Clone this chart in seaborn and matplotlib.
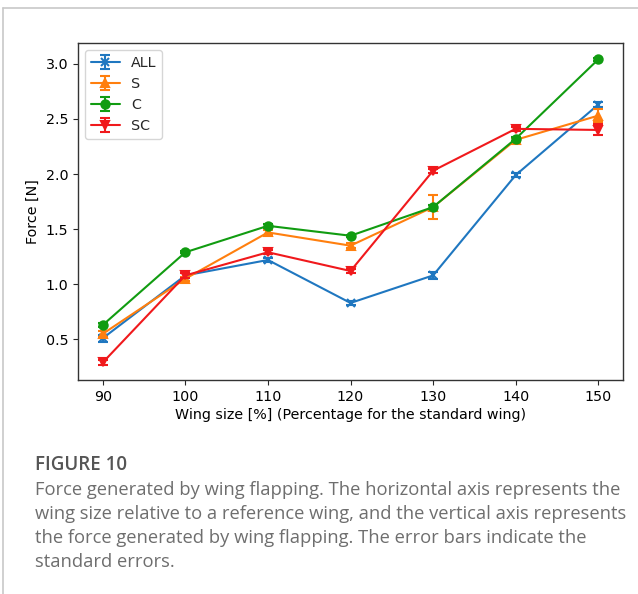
import numpy as np
import pandas as pd
import seaborn as sns
import matplotlib
matplotlib.use("Agg")
import matplotlib.pyplot as plt
from matplotlib.lines import Line2D

# ---- data ----
wing_size = [90, 100, 110, 120, 130, 140, 150]
series_names = ["ALL", "S", "C", "SC"]
force_all = [0.51, 1.08, 1.22, 0.83, 1.08, 1.99, 2.63]
force_s = [0.55, 1.05, 1.47, 1.35, 1.70, 2.31, 2.53]
force_c = [0.63, 1.29, 1.53, 1.44, 1.70, 2.32, 3.04]
force_sc = [0.29, 1.08, 1.29, 1.12, 2.03, 2.41, 2.40]
err_all = [0.03, 0.02, 0.02, 0.02, 0.03, 0.02, 0.02]
err_s = [0.03, 0.02, 0.02, 0.02, 0.11, 0.02, 0.06]
err_c = [0.02, 0.01, 0.02, 0.01, 0.02, 0.02, 0.01]
err_sc = [0.02, 0.02, 0.02, 0.02, 0.02, 0.02, 0.05]

xlabel = "Wing size [%] (Percentage for the standard wing)"
ylabel = "Force [N]"
caption_title = "FIGURE 10"
caption_lines = [
    "Force generated by wing flapping. The horizontal axis represents the",
    "wing size relative to a reference wing, and the vertical axis represents",
    "the force generated by wing flapping. The error bars indicate the",
    "standard errors.",
]

colors = {"ALL": "#1f77c0", "S": "#ff7f0e", "C": "#119c11", "SC": "#f0191c"}
markers = {"ALL": "x", "S": "^", "C": "o", "SC": "v"}

values = {"ALL": force_all, "S": force_s, "C": force_c, "SC": force_sc}
errors = {"ALL": err_all, "S": err_s, "C": err_c, "SC": err_sc}

rows = []
for name in series_names:
    for x, y, e in zip(wing_size, values[name], errors[name]):
        rows.append({"size": x, "force": y, "err": e, "group": name})
df = pd.DataFrame(rows)

sns.set_style("ticks")
plt.rcParams["font.family"] = ["DejaVu Sans"]

fig = plt.figure(figsize=(6.38, 5.94), dpi=100)
ax = fig.add_axes([0.1223, 0.3603, 0.8542, 0.5673])

handles = []
for name in series_names:
    sub = df[df["group"] == name]
    sns.lineplot(data=sub, x="size", y="force", color=colors[name],
                 marker=markers[name], markersize=6, markeredgewidth=1.5,
                 markeredgecolor=colors[name], linewidth=1.5, ax=ax)
    cont = ax.errorbar(sub["size"], sub["force"], yerr=sub["err"], fmt="none",
                       ecolor=colors[name], capsize=3.5, elinewidth=1.5,
                       capthick=1.5)
    ln = Line2D([], [], color=colors[name], marker=markers[name],
                markersize=6, markeredgewidth=1.5, linewidth=1.5)
    handles.append((ln, cont))

ax.legend(handles, series_names, loc="upper left", fontsize=10.3,
          handlelength=2.0, framealpha=0.8)

ax.set_xticks(wing_size)
ax.set_yticks([0.5, 1.0, 1.5, 2.0, 2.5, 3.0])
ax.set_xlabel(xlabel, fontsize=10.3, labelpad=3, color="black")
ax.set_ylabel(ylabel, fontsize=10.3, color="black")
ax.tick_params(labelsize=10.3, direction="out", length=3.5, width=0.8,
               labelcolor="black")
for sp in ax.spines.values():
    sp.set_visible(True)
    sp.set_linewidth(1.0)
    sp.set_color("#333333")

# card border
fig.add_artist(Line2D([3/638, 1.0], [1-8/594, 1-8/594], color="#c8c8c8",
                      linewidth=1.2, transform=fig.transFigure))
fig.add_artist(Line2D([3/638, 3/638], [0, 1-8/594], color="#c8c8c8",
                      linewidth=1.2, transform=fig.transFigure))

cap_font = ["Open Sans", "DejaVu Sans"]
fig.text(35/638, 1-465/594, caption_title, fontsize=13.5, color="#555555",
         fontweight="semibold", family=cap_font, va="center", ha="left")
for i, line in enumerate(caption_lines):
    fig.text(35/638, 1-(490+24*i)/594, line, fontsize=13.2, color="#6e6e6e",
             family=cap_font, va="center", ha="left")

fig.savefig("out.png", dpi=100)
